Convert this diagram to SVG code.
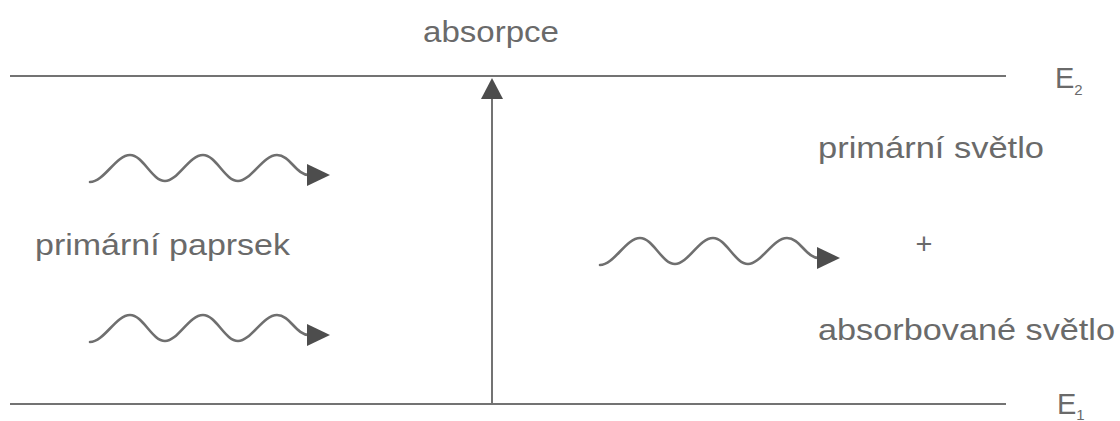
<svg xmlns="http://www.w3.org/2000/svg" width="1120" height="421" viewBox="0 0 1120 421">
  <style>
    .lvl { stroke: #737373; stroke-width: 2; fill: none; }
    .wave { stroke: #6f6f6f; stroke-width: 2.6; fill: none; stroke-linecap: round; }
    .head { fill: #4d4d4d; }
    .lbl { font-family: "Liberation Sans", Arial, sans-serif; font-size: 29px; fill: #6a6a6a; }
    .sub { font-family: "Liberation Sans", Arial, sans-serif; font-size: 15px; fill: #6a6a6a; }
  </style>
  <defs>
    <g id="photon">
      <path class="wave" d="M0,0 C14,0 26,-27 40,-27 C53,-27 62,-1 75,-1 C88,-1 99,-27 113,-27 C126,-27 135,-1 148,-1 C161,-1 173,-27 187,-27 C200,-27 206,-7 219,-7"/>
      <polygon class="head" points="217,-18 240,-7 217,4"/>
    </g>
  </defs>

  <g id="level-E2">
    <line class="lvl" x1="10" y1="76" x2="1006" y2="76"/>
    <text class="lbl" x="1055" y="88">E<tspan class="sub" dy="7">2</tspan></text>
  </g>
  <g id="level-E1">
    <line class="lvl" x1="10" y1="404" x2="1006" y2="404"/>
    <text class="lbl" x="1057" y="414">E<tspan class="sub" dy="6">1</tspan></text>
  </g>

  <g id="connectors">
    <line class="lvl" x1="492" y1="404" x2="492" y2="96"/>
    <polygon class="head" points="492,78 503,99 481,99"/>
  </g>

  <g id="label-absorpce">
    <text class="lbl" x="423" y="42" textLength="136" lengthAdjust="spacingAndGlyphs">absorpce</text>
  </g>
  <g id="photon-in-1">
    <use href="#photon" transform="translate(90,182)"/>
  </g>
  <g id="photon-in-2">
    <use href="#photon" transform="translate(90,342)"/>
  </g>
  <g id="label-primarni-paprsek">
    <text class="lbl" x="35" y="255" textLength="255" lengthAdjust="spacingAndGlyphs">primární paprsek</text>
  </g>
  <g id="photon-out">
    <use href="#photon" transform="translate(600,265)"/>
  </g>
  <g id="label-primarni-svetlo">
    <text class="lbl" x="818" y="158" textLength="226" lengthAdjust="spacingAndGlyphs">primární světlo</text>
  </g>
  <g id="label-plus">
    <text class="lbl" x="924" y="254" text-anchor="middle" font-size="24">+</text>
  </g>
  <g id="label-absorbovane-svetlo">
    <text class="lbl" x="818" y="340" textLength="297" lengthAdjust="spacingAndGlyphs">absorbované světlo</text>
  </g>
</svg>
